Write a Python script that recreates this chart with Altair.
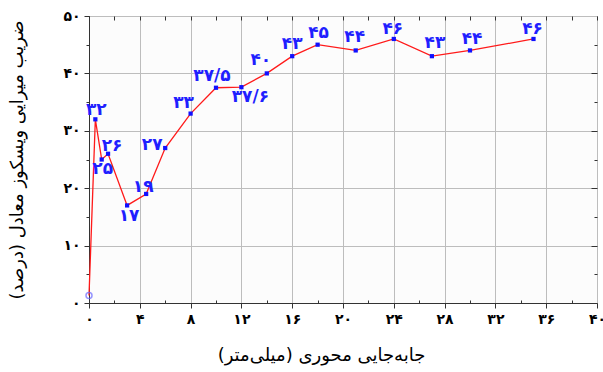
import altair as alt
import pandas as pd

# Axial displacement (mm) and equivalent viscous damping ratio (%)
displacement = [0, 0.5, 1.0, 1.5, 3.0, 4.5, 6.0, 8.0, 10.0, 12.0, 14.0, 16.0,
                18.0, 21.0, 24.0, 27.0, 30.0, 35.0]
damping = [1.3, 32, 25, 26, 17, 19, 27, 33, 37.5, 37.6, 40, 43,
           45, 44, 46, 43, 44, 46]
# label placement around each point (pixels), first point is unlabeled
label_dx = [0, 1, 1, 4, 2, -3, -13, -7, -4, 9, -6, 0, 1, -1, -1, 3, 2, -1]
label_dy = [0, -9, 9, -8, 11, -7, -3, -11, -12, 10, -13, -12, -12, -13, -10, -13, -11, -10]

x_major = [0, 4, 8, 12, 16, 20, 24, 28, 32, 36, 40]
x_minor = [2, 6, 10, 14, 18, 22, 26, 30, 34, 38]
x_all = sorted(x_major + x_minor)
y_major = [0, 10, 20, 30, 40, 50]
y_minor = [5, 15, 25, 35, 45]

FA = str.maketrans("0123456789.", "۰۱۲۳۴۵۶۷۸۹/")


def fa(v):
    return f"{v:g}".translate(FA)


def fa_expr(values):
    pairs = ", ".join(f"'{v:g}': '{fa(v)}'" for v in values)
    return "{" + pairs + "}['' + datum.value]"


df = pd.DataFrame({"x": displacement, "y": damping})
df["label"] = [""] + [fa(v) for v in damping[1:]]
df["idx"] = range(len(df))

FONT = "DejaVu Sans"
xs = alt.Scale(domain=[0, 40], nice=False, zero=False)
ys = alt.Scale(domain=[0, 50], nice=False, zero=False)

base = alt.Chart(df)
x_plain = alt.X("x:Q", scale=xs, axis=None)
y_plain = alt.Y("y:Q", scale=ys, axis=None)

x_main = alt.X(
    "x:Q", scale=xs,
    axis=alt.Axis(
        values=x_major, labelExpr=fa_expr(x_major), labelFont=FONT,
        labelFontSize=14, labelFontWeight="bold", labelColor="#000",
        labelPadding=4, tickSize=5, tickColor="#333", domainColor="#333",
        grid=True, gridColor="#bdbdbd", gridWidth=1,
        title="جابه‌جایی محوری (میلی‌متر)", titleFont=FONT, titleFontSize=18,
        titleFontWeight="normal", titleColor="#000", titleX=232, titleY=52,
        titleBaseline="middle", titleAlign="center", labelFlush=False,
    ),
)
y_main = alt.Y(
    "y:Q", scale=ys,
    axis=alt.Axis(
        values=y_major, labelExpr=fa_expr(y_major), labelFont=FONT,
        labelFontSize=14, labelFontWeight="bold", labelColor="#000",
        labelPadding=4, tickSize=5, tickColor="#333", domainColor="#333",
        grid=True, gridColor="#bdbdbd", gridWidth=1,
        title="ضریب میرایی ویسکوز معادل (درصد)", titleFont=FONT,
        titleFontSize=18, titleFontWeight="normal", titleColor="#000",
        titleX=-72, titleY=143.5, titleAngle=270, titleBaseline="middle",
        titleAlign="center", labelFlush=False,
    ),
)

line = base.mark_line(color="#ff1a1a", strokeWidth=1.3).encode(x=x_main, y=y_main)

pts = base.transform_filter("datum.idx > 0").mark_square(
    color="#1010ff", size=18, opacity=1).encode(x=x_plain, y=y_plain)

first_pt = base.transform_filter("datum.idx == 0").mark_point(
    shape="circle", filled=False, color="#6a6aff", size=36, strokeWidth=1.5).encode(
    x=x_plain, y=y_plain)

# one text layer per point so each value label sits at its own offset
labels = [
    base.transform_filter(f"datum.idx == {i}").mark_text(
        font=FONT, fontSize=17, fontWeight="bold", color="#1f1fff",
        align="center", baseline="middle", dx=label_dx[i], dy=label_dy[i]).encode(
        x=x_plain, y=y_plain, text="label:N")
    for i in range(1, len(df))
]


def tick_axis(orient, values, size, inward):
    return alt.Axis(orient=orient, values=values, labels=False, domain=False,
                    grid=False, title=None, tickSize=size, tickColor="#333",
                    offset=-size if inward else 0)


ghost = base.mark_point(opacity=0)

# mirrored ticks on top / right and minor ticks on all sides
frame_a = ghost.encode(
    x=alt.X("x:Q", scale=xs, axis=tick_axis("top", x_all, 4, True)),
    y=alt.Y("y:Q", scale=ys, axis=tick_axis("right", y_major[1:-1], 6, True)))
frame_b = ghost.encode(
    x=alt.X("x:Q", scale=xs, axis=tick_axis("bottom", x_minor, 3, True)),
    y=alt.Y("y:Q", scale=ys, axis=tick_axis("right", y_minor, 3, True)))
frame_c = ghost.encode(
    x=x_plain,
    y=alt.Y("y:Q", scale=ys, axis=tick_axis("left", y_minor, 3, False)))

chart = alt.layer(line, first_pt, pts, *labels, frame_a, frame_b, frame_c).resolve_scale(
    x="independent", y="independent").resolve_axis(
    x="independent", y="independent").properties(
    width=508, height=287, autosize="none",
    padding={"left": 89, "top": 16, "right": 6, "bottom": 69},
    background="white",
).configure_view(stroke="#333", strokeWidth=1, fill="#fcfcfc")

chart.save("out.html", embed_options={"renderer": "svg", "actions": False})
